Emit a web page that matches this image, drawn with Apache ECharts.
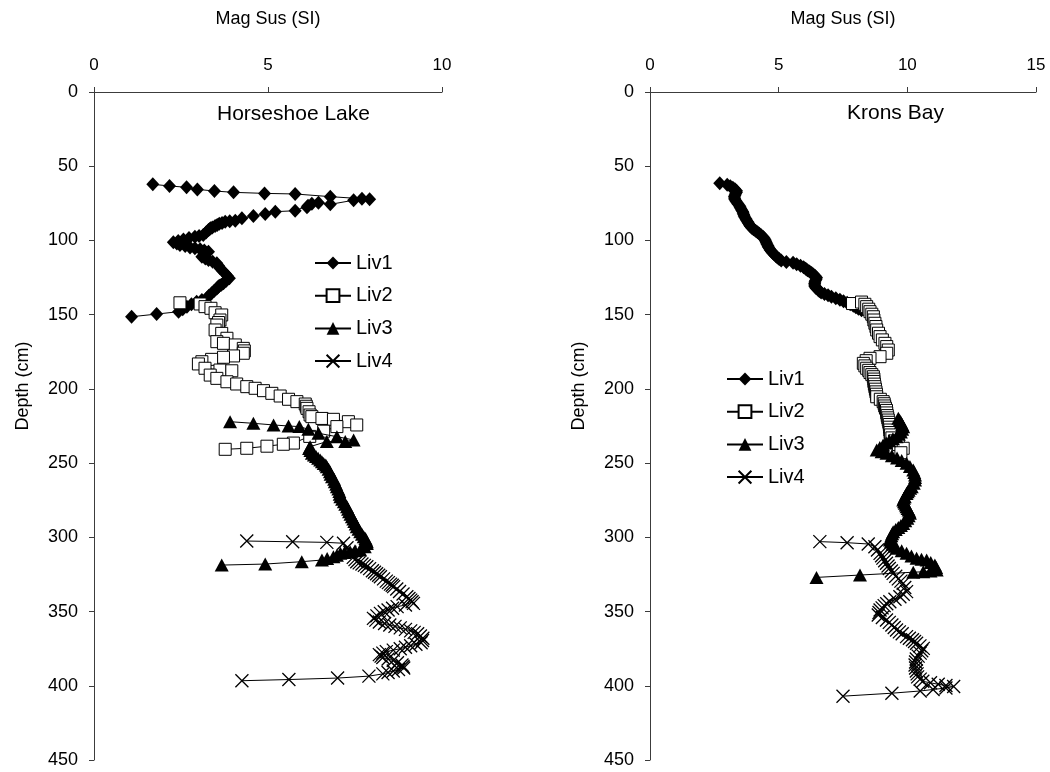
<!DOCTYPE html>
<html>
<head>
<meta charset="utf-8">
<title>Mag Sus profiles</title>
<script src="https://cdn.jsdelivr.net/npm/echarts@6/dist/echarts.min.js"></script>
<style>
  html, body { margin: 0; padding: 0; background: #fff; }
  #chart { width: 1050px; height: 772px; }
</style>
</head>
<body>
<div id="chart"></div>
<script>
// Core names
const coreNames = ['Liv1', 'Liv2', 'Liv3', 'Liv4'];
const siteTitles = ['Horseshoe Lake', 'Krons Bay'];

// Axis ranges / ticks
const depthTicks = [0, 450, 50];          // min, max, interval
const susTicksHorseshoe = [0, 10, 5];
const susTicksKrons = [0, 15, 5];

// Horseshoe Lake: [magnetic susceptibility (SI), depth (cm)]
const hsLiv1 = [
  [1.69,62.2],[2.17,63.3],[2.66,64.2],[2.97,65.6],[3.46,66.7],[4.01,67.6],[4.90,68.3],[5.78,68.7],
  [6.79,70.5],[7.70,71.9],[7.92,72.3],[7.46,72.9],[6.79,75.7],[6.45,74.6],[6.26,75.2],[6.15,76.6],
  [6.12,77.7],[5.78,80.0],[5.21,80.6],[4.92,82.2],[4.58,83.5],[4.25,85.1],[4.06,86.7],[3.90,87.0],
  [3.77,87.4],[3.68,88.2],[3.60,88.8],[3.54,89.6],[3.48,90.3],[3.40,91.2],[3.35,91.8],[3.32,92.4],
  [3.29,93.0],[3.22,94.6],[3.14,96.3],[3.02,97.0],[2.90,97.5],[2.73,98.4],[2.57,99.3],[2.42,100.3],
  [2.28,101.3],[2.38,102.1],[2.47,103.0],[2.62,103.8],[2.76,104.7],[2.90,105.3],[3.05,106.0],[3.17,106.8],
  [3.29,107.6],[3.23,108.6],[3.18,109.5],[3.14,110.3],[3.10,111.0],[3.20,112.1],[3.29,113.2],[3.41,114.3],
  [3.53,115.4],[3.58,117.0],[3.62,118.8],[3.70,120.5],[3.77,122.2],[3.83,123.8],[3.89,125.5],[3.80,127.2],
  [3.72,128.9],[3.66,129.8],[3.60,130.6],[3.56,131.5],[3.53,132.3],[3.45,134.0],[3.38,135.6],[3.30,137.3],
  [3.24,139.0],[3.10,140.2],[2.95,141.3],[2.80,143.0],[2.67,144.6],[2.55,146.3],[2.43,148.0],[1.80,149.6],
  [1.08,151.4]
];
const hsLiv2 = [
  [2.47,142.0],[3.05,142.8],[3.19,144.6],[3.36,145.7],[3.48,148.7],[3.67,150.2],[3.62,153.6],[3.58,155.3],
  [3.53,157.0],[3.48,160.3],[3.67,162.6],[3.82,165.9],[3.53,168.2],[3.72,169.3],[4.06,170.4],[4.29,172.7],
  [4.32,174.4],[4.29,176.0],[4.01,177.8],[3.72,178.7],[3.38,180.1],[3.10,181.7],[3.00,183.2],[3.19,186.1],
  [3.62,187.3],[3.96,187.8],[3.34,190.7],[3.53,192.9],[3.82,195.2],[4.10,196.7],[4.39,198.5],[4.63,199.6],
  [4.87,201.2],[5.11,203.0],[5.35,204.8],[5.59,207.0],[5.83,208.6],[6.07,210.2],[6.10,211.7],[6.12,213.1],
  [6.18,215.4],[6.21,217.6],[6.26,218.7],[6.55,219.9],[6.88,220.5],[7.31,222.1],[7.55,224.3],[6.98,225.4],
  [6.60,228.5],[6.20,232.0],[5.73,236.5],[5.44,237.3],[4.97,238.6],[4.39,240.0],[3.77,240.7]
];
const hsLiv3 = [
  [3.91,222.1],[4.58,223.2],[5.16,224.3],[5.59,225.0],[5.90,225.4],[6.16,227.2],[6.45,229.9],[6.98,232.2],
  [7.46,234.4],[7.22,235.5],[6.69,235.5],[6.21,238.9],[6.18,240.2],[6.22,241.5],[6.26,243.4],[6.32,244.5],
  [6.38,245.6],[6.44,246.8],[6.50,247.9],[6.55,249.0],[6.60,250.2],[6.66,251.3],[6.69,252.4],[6.74,254.1],
  [6.78,255.8],[6.80,257.5],[6.84,259.2],[6.90,260.8],[6.92,262.5],[6.96,264.2],[6.98,265.9],[7.02,267.5],
  [7.05,269.2],[7.06,270.9],[7.08,272.6],[7.13,274.3],[7.18,276.0],[7.22,277.7],[7.27,279.4],[7.30,281.0],
  [7.33,282.7],[7.37,284.4],[7.41,286.1],[7.45,287.7],[7.48,289.4],[7.52,291.1],[7.55,292.8],[7.60,294.5],
  [7.65,296.2],[7.70,297.9],[7.75,299.6],[7.80,300.8],[7.82,302.0],[7.84,303.0],[7.84,304.1],[7.78,306.3],
  [7.65,308.5],[7.50,309.0],[7.36,309.7],[7.20,310.2],[7.08,310.8],[6.98,312.0],[6.88,313.1],[6.70,314.2],
  [6.55,315.3],[5.97,316.4],[4.92,318.0],[3.67,318.7]
];
const hsLiv4 = [
  [4.39,302.5],[5.71,303.0],[6.69,303.4],[7.17,304.0],[7.27,307.0],[7.35,310.0],[7.45,313.5],[7.50,315.0],
  [7.55,316.4],[7.62,317.2],[7.70,318.0],[7.77,318.9],[7.84,319.8],[7.92,321.1],[8.00,322.5],[8.06,323.5],
  [8.12,324.5],[8.18,325.5],[8.23,326.5],[8.32,328.0],[8.40,329.5],[8.46,330.5],[8.52,331.5],[8.57,332.3],
  [8.61,333.2],[8.70,334.8],[8.78,336.5],[8.88,338.2],[8.99,340.0],[9.05,341.2],[9.10,342.3],[9.14,343.4],
  [9.18,344.5],[8.95,345.6],[8.71,346.7],[8.58,347.8],[8.45,349.0],[8.34,350.1],[8.23,351.2],[8.13,352.9],
  [8.03,354.6],[8.10,355.8],[8.20,357.0],[8.35,358.0],[8.50,359.0],[8.65,360.0],[8.80,361.0],[8.95,362.0],
  [9.10,363.0],[9.20,364.0],[9.30,365.0],[9.38,366.5],[9.45,368.0],[9.44,369.5],[9.40,371.0],[9.25,372.0],
  [9.10,373.0],[8.95,374.0],[8.80,375.0],[8.60,376.0],[8.40,377.0],[8.30,378.0],[8.20,379.0],[8.25,380.0],
  [8.30,381.0],[8.45,382.0],[8.60,383.0],[8.72,384.5],[8.85,386.0],[8.88,387.0],[8.90,388.0],[8.75,389.0],
  [8.60,390.0],[8.45,391.0],[8.30,392.0],[7.90,393.5],[7.00,394.8],[5.60,395.8],[4.25,396.6]
];

// Krons Bay: [magnetic susceptibility (SI), depth (cm)]
const kbLiv1 = [
  [2.71,61.5],[3.00,62.5],[3.12,63.5],[3.22,64.5],[3.30,65.5],[3.36,66.5],[3.36,67.5],[3.33,68.5],
  [3.30,69.5],[3.28,70.5],[3.29,71.5],[3.30,72.5],[3.34,73.5],[3.38,74.5],[3.42,75.5],[3.47,76.5],
  [3.50,77.5],[3.53,78.5],[3.56,79.5],[3.60,80.5],[3.62,81.5],[3.64,82.5],[3.66,83.5],[3.69,84.5],
  [3.73,85.5],[3.76,86.5],[3.80,87.5],[3.83,88.5],[3.86,89.5],[3.90,90.5],[3.95,91.5],[4.02,92.5],
  [4.10,93.5],[4.18,94.5],[4.25,95.5],[4.32,96.5],[4.39,97.5],[4.44,98.5],[4.47,99.5],[4.50,100.5],
  [4.52,101.5],[4.55,102.5],[4.58,103.5],[4.60,104.5],[4.64,105.5],[4.67,106.5],[4.72,107.5],[4.77,108.5],
  [4.83,109.5],[4.89,110.5],[4.95,111.5],[5.02,112.5],[5.10,113.5],[5.30,114.5],[5.56,115.0],[5.70,116.0],
  [5.85,117.0],[5.97,118.0],[6.05,119.0],[6.12,120.0],[6.20,121.0],[6.28,122.0],[6.35,123.0],[6.42,124.0],
  [6.47,125.0],[6.46,126.0],[6.43,127.0],[6.41,128.0],[6.40,129.0],[6.40,130.0],[6.41,131.0],[6.45,132.0],
  [6.52,133.0],[6.58,134.0],[6.65,135.0],[6.78,136.0],[6.92,137.0],[7.05,138.0],[7.22,139.0],[7.38,140.0],
  [7.52,141.0],[7.66,142.0],[7.78,143.0],[7.90,144.0],[8.00,145.0],[8.10,146.0],[8.22,147.0]
];
const kbLiv2 = [
  [7.87,142.5],[8.22,141.5],[8.35,143.0],[8.42,144.6],[8.50,146.3],[8.55,148.0],[8.62,149.7],[8.68,151.4],
  [8.70,153.6],[8.74,155.8],[8.78,158.0],[8.81,160.3],[8.88,162.5],[8.94,164.8],[9.03,167.0],[9.13,169.3],
  [9.20,171.5],[9.26,173.8],[9.20,176.0],[8.94,178.3],[8.55,179.4],[8.40,181.0],[8.29,182.8],[8.35,184.5],
  [8.42,186.1],[8.50,187.5],[8.55,189.0],[8.62,190.4],[8.68,191.8],[8.70,193.4],[8.70,195.0],[8.72,196.8],
  [8.74,198.5],[8.76,200.2],[8.78,202.0],[8.80,203.6],[8.81,205.3],[8.95,207.0],[9.06,208.6],[9.10,210.0],
  [9.12,211.5],[9.15,213.0],[9.19,214.5],[9.20,216.2],[9.22,218.0],[9.24,219.5],[9.26,221.0],[9.28,222.5],
  [9.30,224.0],[9.31,225.8],[9.32,227.7],[9.33,229.4],[9.35,231.0],[9.40,233.0],[9.50,235.0],[9.65,237.5],
  [9.84,240.0],[9.75,243.0]
];
const kbLiv3 = [
  [9.65,219.8],[9.70,221.2],[9.75,222.5],[9.80,224.0],[9.84,225.5],[9.80,227.2],[9.75,229.0],[9.67,230.6],
  [9.58,232.2],[9.44,233.6],[9.30,235.0],[9.18,236.4],[9.06,237.8],[8.93,239.5],[8.81,241.2],[9.00,242.3],
  [9.19,243.4],[9.40,245.0],[9.60,246.5],[9.78,248.3],[9.97,250.1],[10.10,252.3],[10.23,254.6],[10.27,256.3],
  [10.30,258.0],[10.30,259.7],[10.30,261.4],[10.25,263.5],[10.17,265.9],[10.11,267.0],[10.05,268.2],[10.01,269.3],
  [9.97,270.4],[9.90,272.6],[9.87,273.7],[9.84,274.9],[9.87,276.0],[9.90,277.1],[9.94,278.2],[9.97,279.4],
  [10.01,280.5],[10.05,281.6],[10.08,282.7],[10.10,283.8],[10.05,285.5],[10.00,287.2],[9.92,288.9],[9.84,290.6],
  [9.75,292.0],[9.65,293.4],[9.55,294.8],[9.45,296.2],[9.41,297.6],[9.38,299.0],[9.35,300.4],[9.32,301.8],
  [9.36,303.2],[9.42,304.6],[9.50,306.0],[9.58,307.4],[9.78,309.1],[9.97,310.8],[10.16,312.5],[10.36,314.1],
  [10.55,314.7],[10.75,315.3],[10.91,317.0],[11.07,318.6],[11.12,320.3],[11.14,322.0],[10.90,322.6],[10.62,323.2],
  [10.23,323.5],[8.16,325.4],[6.47,327.0]
];
const kbLiv4 = [
  [6.60,302.9],[7.66,303.6],[8.48,304.5],[8.74,306.3],[8.84,308.5],[8.94,310.8],[9.00,312.4],[9.05,314.0],
  [9.12,315.8],[9.19,317.5],[9.25,319.3],[9.30,321.0],[9.38,322.7],[9.45,324.3],[9.55,326.2],[9.65,328.0],
  [9.75,329.5],[9.84,331.0],[9.90,333.8],[9.97,336.6],[9.84,338.3],[9.71,340.0],[9.52,341.7],[9.32,343.4],
  [9.20,344.7],[9.10,346.0],[9.02,347.5],[8.94,349.0],[8.90,350.6],[8.87,352.3],[9.03,354.0],[9.19,355.7],
  [9.30,357.3],[9.40,359.0],[9.49,360.7],[9.58,362.4],[9.69,363.7],[9.80,365.0],[9.97,366.9],[10.08,368.0],
  [10.20,369.0],[10.28,370.2],[10.36,371.4],[10.49,373.1],[10.62,374.8],[10.56,376.4],[10.50,378.0],[10.42,380.0],
  [10.35,382.0],[10.32,384.0],[10.30,386.0],[10.32,388.0],[10.35,390.0],[10.38,392.0],[10.40,394.0],[10.50,395.5],
  [10.60,397.0],[10.90,398.0],[11.20,399.0],[11.50,399.8],[11.80,400.5],[11.50,401.5],[11.00,402.5],[10.50,403.5],
  [9.40,405.0],[7.50,407.0]
];

const horseshoeSeries = [hsLiv1, hsLiv2, hsLiv3, hsLiv4];
const kronsSeries = [kbLiv1, kbLiv2, kbLiv3, kbLiv4];

// ---- styling ----
const FONT = '"Liberation Sans", Arial, Helvetica, sans-serif';
const AXIS_GREY = '#3c3c3c';
const crossPath = 'path://M0,0L10,10M0,10L10,0';

const markerStyles = {
  Liv1: { symbol: 'diamond', symbolSize: [13, 14], itemStyle: { color: '#000', borderColor: '#000', borderWidth: 0 } },
  Liv2: { symbol: 'rect', symbolSize: 12, itemStyle: { color: '#fff', borderColor: '#000', borderWidth: 1 } },
  Liv3: { symbol: 'triangle', symbolSize: [14, 13], itemStyle: { color: '#000', borderColor: '#000', borderWidth: 0 } },
  Liv4: { symbol: crossPath, symbolSize: 13, itemStyle: { color: 'none', borderColor: '#000', borderWidth: 1.3 } }
};

function xAxisFor(gridIndex, ticks) {
  return {
    type: 'value', gridIndex, position: 'top',
    min: ticks[0], max: ticks[1], interval: ticks[2],
    name: 'Mag Sus (SI)', nameLocation: 'middle', nameGap: 64,
    nameTextStyle: { fontFamily: FONT, fontSize: 18, color: '#000' },
    axisLine: { show: true, onZero: false, lineStyle: { color: AXIS_GREY, width: 1 } },
    axisTick: { show: true, length: 5, lineStyle: { color: AXIS_GREY, width: 1 } },
    axisLabel: { fontFamily: FONT, fontSize: 17, color: '#000', margin: 18 },
    splitLine: { show: false }
  };
}
function yAxisFor(gridIndex) {
  return {
    type: 'value', gridIndex, inverse: true,
    min: depthTicks[0], max: depthTicks[1], interval: depthTicks[2],
    name: 'Depth (cm)', nameLocation: 'middle', nameGap: 62, nameRotate: 90,
    // extra leading padding lifts the rotated title above the axis midpoint
    nameTextStyle: { fontFamily: FONT, fontSize: 18, color: '#000', padding: [0, 0, 0, 80] },
    axisLine: { show: true, onZero: false, lineStyle: { color: AXIS_GREY, width: 1 } },
    axisTick: { show: true, length: 5, lineStyle: { color: AXIS_GREY, width: 1 } },
    axisLabel: { fontFamily: FONT, fontSize: 18, color: '#000', margin: 16 },
    splitLine: { show: false }
  };
}

function buildSeries(sets, axisIndex) {
  return sets.map((data, i) => {
    const name = coreNames[i];
    const m = markerStyles[name];
    return {
      name, type: 'line', xAxisIndex: axisIndex, yAxisIndex: axisIndex,
      data, symbol: m.symbol, symbolSize: m.symbolSize, showSymbol: true, showAllSymbol: true,
      itemStyle: m.itemStyle,
      lineStyle: { color: '#000', width: 1 },
      emphasis: { disabled: true }, z: 2 + i
    };
  });
}

function legendAt(left, top) {
  return {
    data: coreNames, orient: 'vertical', left, top, padding: 0,
    itemWidth: 36, itemHeight: 16, itemGap: 12.7,
    selectedMode: false,
    textStyle: { fontFamily: FONT, fontSize: 20, color: '#000' }
  };
}

const chart = echarts.init(document.getElementById('chart'), null, { renderer: 'canvas' });
chart.setOption({
  backgroundColor: '#fff',
  animation: false,
  textStyle: { fontFamily: FONT },
  title: [
    { text: siteTitles[0], left: 217, top: 104, padding: 0, textStyle: { fontFamily: FONT, fontSize: 21, fontWeight: 'normal', color: '#000' } },
    { text: siteTitles[1], left: 847, top: 103, padding: 0, textStyle: { fontFamily: FONT, fontSize: 21, fontWeight: 'normal', color: '#000' } }
  ],
  legend: [legendAt(314, 253), legendAt(726, 369)],
  grid: [
    { left: 94, top: 92, width: 348, height: 668 },
    { left: 650, top: 92, width: 386, height: 668 }
  ],
  xAxis: [xAxisFor(0, susTicksHorseshoe), xAxisFor(1, susTicksKrons)],
  yAxis: [yAxisFor(0), yAxisFor(1)],
  series: buildSeries(horseshoeSeries, 0).concat(buildSeries(kronsSeries, 1))
});
</script>
</body>
</html>
